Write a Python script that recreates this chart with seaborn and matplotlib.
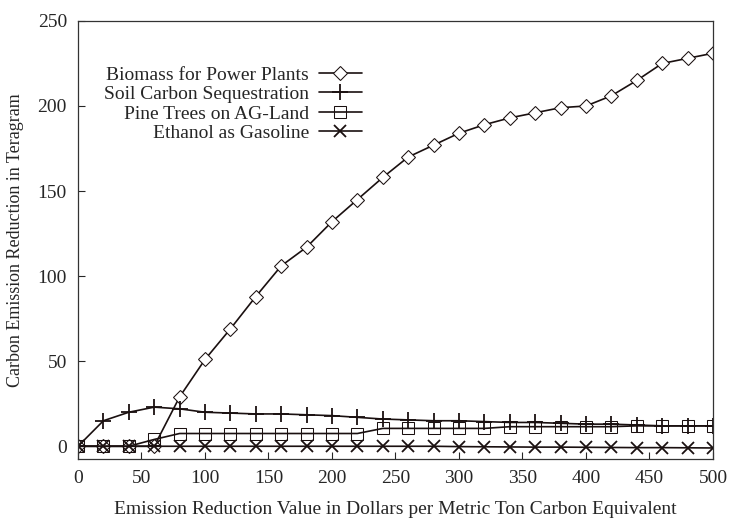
import seaborn as sns
import pandas as pd
import matplotlib.pyplot as plt

x_values = list(range(0, 501, 20))
biomass = [0, 0, 0, 0, 29, 51, 69, 88, 106, 117, 132, 145, 158, 170, 177, 184,
           189, 193, 196, 199, 200, 206, 215, 225, 228, 231]
soil = [0, 15, 20, 23, 22, 20, 19.5, 19, 19, 18.5, 18, 17, 16, 15.5, 15, 15,
        14.5, 14, 14, 13.5, 13, 13, 12.5, 12, 12, 12]
pine = [0, 0, 0, 4, 7.5, 7.5, 7.5, 7.5, 7.5, 7.5, 7.5, 7.5, 10.5, 10.5, 10.5, 10.5,
        10.5, 11.5, 11.5, 11.5, 11.5, 11.5, 12, 12, 12, 12]
ethanol = [0, 0, 0, 0, 0, 0, 0, 0, 0, 0, 0, 0, 0, 0, 0, -0.2,
           -0.3, -0.4, -0.5, -0.5, -0.6, -0.7, -0.8, -0.8, -0.9, -1]

series_names = ["Biomass for Power Plants", "Soil Carbon Sequestration",
                "Pine Trees on AG-Land", "Ethanol as Gasoline"]
series_values = [biomass, soil, pine, ethanol]
marker_style = {
    "Biomass for Power Plants": dict(marker="D", markersize=7, markerfacecolor="white"),
    "Soil Carbon Sequestration": dict(marker="+", markersize=11, markeredgewidth=1.3),
    "Pine Trees on AG-Land": dict(marker="s", markersize=9, markerfacecolor="none"),
    "Ethanol as Gasoline": dict(marker="x", markersize=9, markeredgewidth=1.3),
}

sns.set_style("ticks")
plt.rcParams['font.family'] = ['Liberation Serif', 'DejaVu Serif']

fig = plt.figure(figsize=(7.29, 5.23), dpi=100)
ax = fig.add_axes([0.107, 0.122, 0.871, 0.838])

for name, vals in zip(series_names, series_values):
    df = pd.DataFrame({"x": x_values, "y": vals})
    sns.lineplot(data=df, x="x", y="y", ax=ax, color="#1a1010", linewidth=1.2,
                 markeredgecolor="#1a1010", label=name, **marker_style[name])

ax.set_xlim(0, 500)
ax.set_ylim(-7.6, 250)
ax.set_xticks(range(0, 501, 50))
ax.set_yticks(range(0, 251, 50))
ax.tick_params(direction="in", length=5, labelsize=14, top=False, right=False, pad=8)
for s in ax.spines.values():
    s.set_linewidth(0.9)
    s.set_color("#333333")
ax.set_xlabel("Emission Reduction Value in Dollars per Metric Ton Carbon Equivalent",
              fontsize=14, labelpad=10)
ax.set_ylabel("Carbon Emission Reduction in Teragram", fontsize=13, labelpad=10)

ax.legend(loc="upper left", bbox_to_anchor=(0.029, 0.915), frameon=False,
          markerfirst=False, fontsize=14, handlelength=2.2, labelspacing=0.1,
          handletextpad=0.5, borderaxespad=0)

plt.savefig("out.png", dpi=100)
